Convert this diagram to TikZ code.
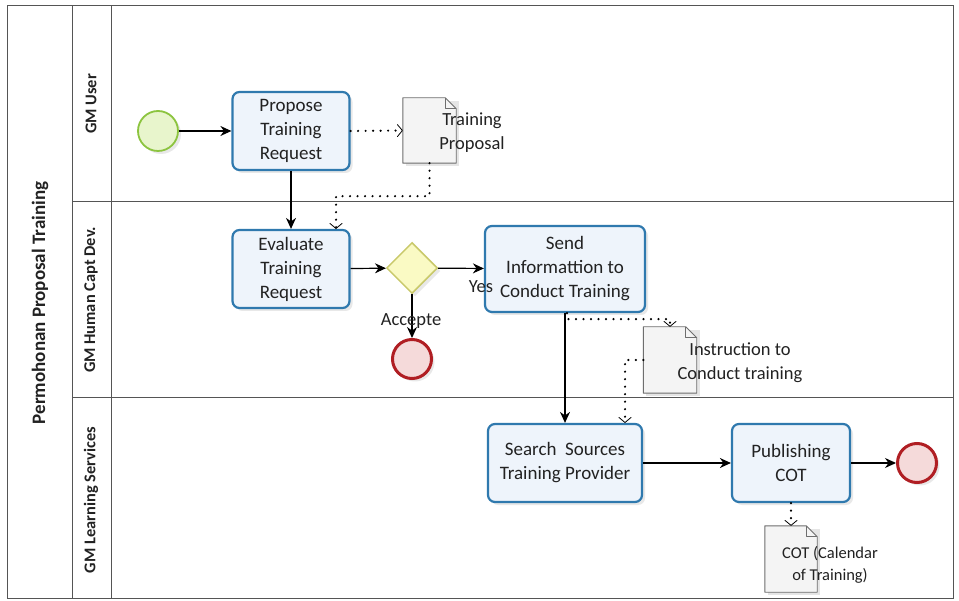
\documentclass[tikz,border=0pt]{standalone}
\usepackage{fontspec}
\setmainfont{Carlito}
\usetikzlibrary{arrows.meta,shapes.geometric,shadows,positioning}
\definecolor{taskline}{HTML}{2F79AE}
\definecolor{taskfill}{HTML}{EEF4FB}
\definecolor{lanecol}{HTML}{555555}
\definecolor{startline}{HTML}{8CC43F}
\definecolor{startfill}{HTML}{E8F5CC}
\definecolor{endline}{HTML}{B01E23}
\definecolor{endfill}{HTML}{F5DADA}
\definecolor{gwline}{HTML}{C9C96A}
\definecolor{gwfill}{HTML}{FAFAC4}
\definecolor{docline}{HTML}{6E6E6E}
\definecolor{docfill}{HTML}{F4F4F4}
\definecolor{txt}{HTML}{222222}
\tikzset{
  soft/.style={drop shadow={opacity=0.18,shadow xshift=3pt,shadow yshift=-3pt}},
  task/.style={draw=taskline,fill=taskfill,line width=2.2pt,rounded corners=7pt,
    minimum width=117pt,minimum height=78pt,align=center,text=txt,
    font=\fontsize{19}{24}\selectfont,soft},
  startev/.style={circle,draw=startline,fill=startfill,line width=1.8pt,minimum size=40pt,soft},
  endev/.style={circle,draw=endline,fill=endfill,line width=3pt,minimum size=39pt,soft},
  gateway/.style={diamond,draw=gwline,fill=gwfill,line width=1.5pt,minimum width=51pt,minimum height=51pt,inner sep=0pt,soft},
  docbox/.style={minimum width=53pt,minimum height=65pt,inner sep=0pt},
  doclabel/.style={align=center,text=txt,font=\fontsize{18.5}{24}\selectfont},
  flow/.style={draw=black,line width=1.2pt,-{Stealth[length=11pt,width=10pt]}},
  assoc/.style={draw=black,line width=2.4pt,line cap=round,dash pattern=on 0pt off 7.5pt,
    -{Straight Barb[length=5pt,width=12pt,line width=0.8pt,round]}},
  lane/.style={draw=lanecol,line width=1pt},
  lanelabel/.style={rotate=90,font=\fontsize{16.4}{19}\selectfont\bfseries,text=txt},
  edgelabel/.style={text=txt,font=\fontsize{18.5}{22}\selectfont,inner sep=0pt}
}
\newcommand{\docshape}[1]{%
  \fill[black,opacity=0.10] ([xshift=3pt,yshift=-3pt]#1.south west) rectangle ([xshift=3pt,yshift=-3pt]#1.north east);
  \draw[docline,fill=docfill,line width=0.9pt,line join=round]
    (#1.south west) -- (#1.north west) -- ([xshift=-11pt]#1.north east)
    -- ([yshift=-11pt]#1.north east) -- (#1.south east) -- cycle;
  \draw[docline,line width=0.9pt,line join=round]
    ([xshift=-11pt]#1.north east) -- ([xshift=-11pt,yshift=-11pt]#1.north east) -- ([yshift=-11pt]#1.north east);}
\begin{document}
\begin{tikzpicture}[x=1pt,y=-1pt]
\useasboundingbox[fill=white] (0,0) rectangle (959,601);

% pool and lanes
\draw[lane] (7,6) rectangle (953,598);
\draw[lane] (72,6) -- (72,598);
\draw[lane] (111,6) -- (111,598);
\draw[lane] (72,202) -- (953,202);
\draw[lane] (72,398) -- (953,398);
\node[lanelabel,font=\fontsize{19}{22}\selectfont\bfseries] (pool) at (40,303) {Permohonan Proposal Training};
\node[lanelabel] (laneA) at (91,104) {GM User};
\node[lanelabel] (laneB) at (91,300) {GM Human Capt Dev.};
\node[lanelabel] (laneC) at (91,500) {GM Learning Services};

% flow objects
\node[startev] (start) at (158,131) {};
\node[task] (propose) at (291,131) {Propose\\Training\\Request};
\node[task] (evaluate) at (291,269) {Evaluate\\Training\\Request};
\node[gateway] (gw) at (412,268) {};
\node[endev] (endA) at (412,359) {};
\node[task,minimum width=160pt,minimum height=86pt] (send) at (565,269) {Send\\Informattion to\\Conduct Training};
\node[task,minimum width=154pt] (search) at (565,463) {Search\ \ Sources\\Training Provider};
\node[task,minimum width=118pt] (publish) at (791,463) {Publishing\\COT};
\node[endev] (endB) at (917,463) {};

% data objects
\node[docbox] (tp) at (429.5,130.5) {};
\node[docbox,minimum height=66pt] (ins) at (670,360) {};
\node[docbox,minimum width=52pt,minimum height=66pt] (cot) at (791,559) {};
\docshape{tp}
\docshape{ins}
\docshape{cot}
\node[doclabel] (tplabel) at (472,133) {Training\\Proposal};
\node[doclabel] (inslabel) at (740,363) {Instruction to\\Conduct training};
\node[doclabel,font=\fontsize{16.5}{22}\selectfont] (cotlabel) at (830,565) {COT (Calendar\\of Training)};

% sequence flows
\draw[flow] (start) -- (propose);
\draw[flow] (propose) -- (evaluate);
\draw[flow] (evaluate) -- (gw);
\draw[flow] (gw) -- (send);
\draw[flow] (gw) -- (endA);
\draw[flow] (send) -- (search);
\draw[flow] (search) -- (publish);
\draw[flow] (publish) -- (endB);
\node[edgelabel] (yes) at (481,287) {Yes};
\node[edgelabel] (acc) at (411,321) {Accepte};

% associations
\draw[assoc] (propose.east) -- (tp.west);
\draw[assoc] (tp.south) -- ++(0,33) -| ([xshift=45pt]evaluate.north);
\draw[assoc] ([xshift=2pt]send.south) -- ++(0,6) -| (ins.north);
\draw[assoc] (ins.west) -| ([xshift=60pt]search.north);
\draw[assoc] (publish.south) -- (cot.north);
\end{tikzpicture}
\end{document}
